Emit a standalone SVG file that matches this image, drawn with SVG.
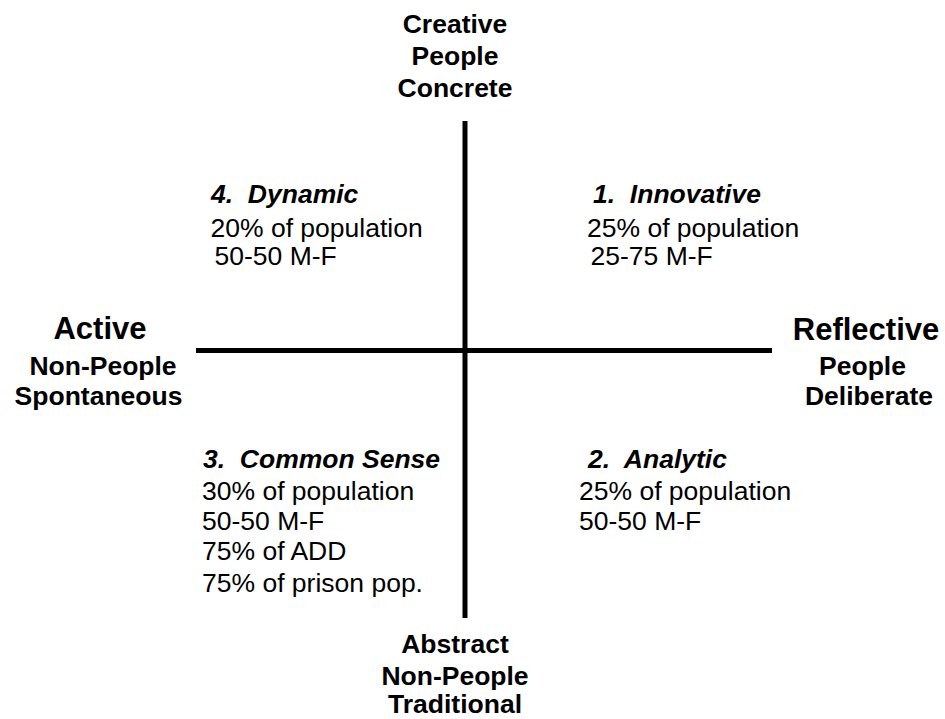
<svg xmlns="http://www.w3.org/2000/svg" width="945" height="719" viewBox="0 0 945 719">
<style>
text{font-family:"Liberation Sans",Arial,sans-serif;fill:#000;white-space:pre}
.ax{font-weight:bold;font-size:26.5px;text-anchor:middle}
.big{font-size:31px}
.t{font-weight:bold;font-style:italic;font-size:26.5px}
.b{font-size:26.5px}
.axis{stroke:#000;stroke-width:5;fill:none}
</style>
<rect width="945" height="719" fill="#fff"/>
<g id="connectors">
<line class="axis" x1="465" y1="121" x2="465" y2="618"/>
<line class="axis" x1="196" y1="350.5" x2="772" y2="350.5"/>
</g>
<g id="top-label">
<text class="ax" x="455" y="33">Creative</text>
<text class="ax" x="455" y="64.5">People</text>
<text class="ax" x="455" y="96.5">Concrete</text>
</g>
<g id="bottom-label">
<text class="ax" x="455" y="653">Abstract</text>
<text class="ax" x="455" y="684.5">Non-People</text>
<text class="ax" x="455" y="713">Traditional</text>
</g>
<g id="left-label">
<text class="ax big" x="100" y="339">Active</text>
<text class="ax" x="103" y="375">Non-People</text>
<text class="ax" x="98.5" y="404.5">Spontaneous</text>
</g>
<g id="right-label">
<text class="ax big" x="866" y="339.5">Reflective</text>
<text class="ax" x="862.5" y="375">People</text>
<text class="ax" x="869" y="405">Deliberate</text>
</g>
<g id="q4-dynamic">
<text class="t" x="211" y="203">4.  Dynamic</text>
<text class="b" x="210.5" y="236.5">20% of population</text>
<text class="b" x="214.5" y="265">50-50 M-F</text>
</g>
<g id="q1-innovative">
<text class="t" x="593" y="203">1.  Innovative</text>
<text class="b" x="587" y="236.5">25% of population</text>
<text class="b" x="590.5" y="265">25-75 M-F</text>
</g>
<g id="q3-common-sense">
<text class="t" x="203" y="468">3.  Common Sense</text>
<text class="b" x="202" y="500">30% of population</text>
<text class="b" x="202" y="530">50-50 M-F</text>
<text class="b" x="202" y="560">75% of ADD</text>
<text class="b" x="202" y="591.5">75% of prison pop.</text>
</g>
<g id="q2-analytic">
<text class="t" x="588" y="468">2.  Analytic</text>
<text class="b" x="579" y="500">25% of population</text>
<text class="b" x="579" y="530">50-50 M-F</text>
</g>
</svg>
